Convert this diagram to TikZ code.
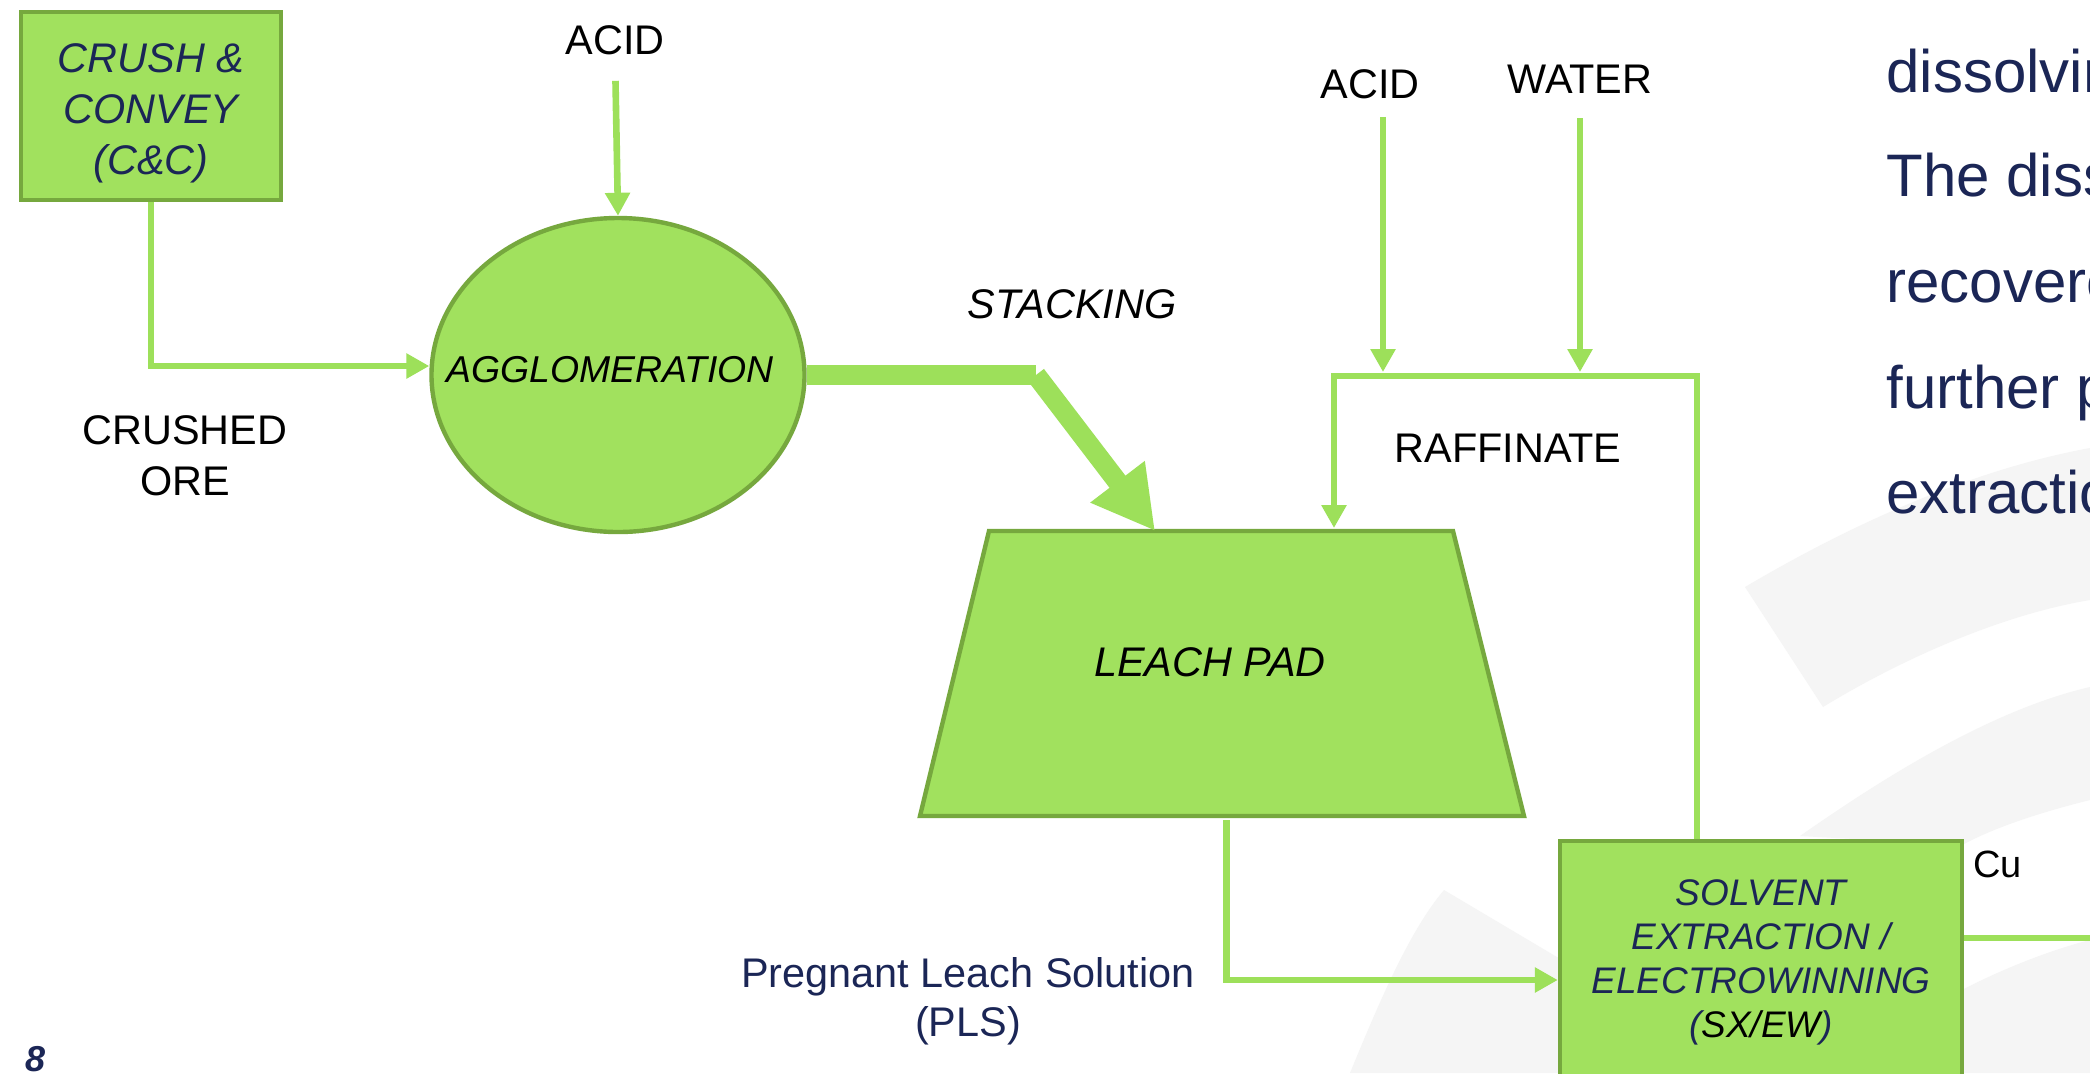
\documentclass[tikz,border=0pt]{standalone}
\usepackage{fontspec}
\setmainfont{Liberation Sans}
\usetikzlibrary{arrows.meta,shapes.geometric,calc}
\definecolor{padgreen}{RGB}{161,225,94}
\definecolor{edgegreen}{RGB}{118,168,62}
\definecolor{flowgreen}{RGB}{157,224,90}
\definecolor{slatenavy}{RGB}{27,38,86}
\definecolor{swooshgray}{RGB}{245,245,245}

\begin{document}
\begin{tikzpicture}[
  x=0.5pt, y=-0.5pt,
  unitbox/.style={
    draw=edgegreen,
    fill=padgreen,
    line width=2.2pt,
    inner sep=0pt,
    align=center,
    font=\fontsize{20.7}{25.5}\selectfont\itshape,
    text=slatenavy
  },
  unitshape/.style={
    draw=edgegreen,
    fill=padgreen,
    line width=2.2pt,
    inner sep=0pt,
    align=center,
    font=\fontsize{20.7}{25.5}\selectfont\itshape
  },
  padshape/.style={draw=edgegreen, fill=padgreen, line width=2.2pt},
  flowlabel/.style={inner sep=0pt, align=center, font=\fontsize{20.7}{25.5}\selectfont},
  bodytext/.style={inner sep=0pt, anchor=base west, text=slatenavy, font=\fontsize{30}{36}\selectfont},
  flow/.style={-{Triangle[length=11.5pt,width=12pt]}, line width=3.3pt, draw=flowgreen},
  plainflow/.style={line width=3.3pt, draw=flowgreen},
  bigline/.style={line width=10pt, draw=flowgreen},
  bigflow/.style={-{Triangle[length=31pt,width=32pt]}, line width=10pt, draw=flowgreen}
]

\useasboundingbox (0,0) rectangle (2090,1073);
\clip (0,0) rectangle (2090,1073);
\fill[white] (0,0) rectangle (2090,1073);

% Background swooshes
\fill[swooshgray] (1745,587) .. controls (1850,525) and (1970,470) .. (2090,448)
  -- (2090,600) .. controls (2000,615) and (1900,660) .. (1823,707) -- cycle;
\fill[swooshgray] (1800,836) .. controls (1880,780) and (1990,710) .. (2090,687)
  -- (2090,800) .. controls (2030,815) and (1990,830) .. (1962,845) -- cycle;
\fill[swooshgray] (1962,990) .. controls (2000,970) and (2050,950) .. (2090,940)
  -- (2090,1073) -- (1962,1073) -- cycle;
\fill[swooshgray] (1444,890) -- (1562,960) -- (1562,1073) -- (1350,1073)
  .. controls (1380,1000) and (1410,930) .. cycle;

% Process units
\node[unitbox, minimum width=130pt, minimum height=94pt] (crush) at (151,106)
  {\rule{0pt}{21.3pt}CRUSH \&\\CONVEY\\(C\&C)};
\node[unitshape, ellipse, minimum width=186.5pt, minimum height=157pt,
  font=\fontsize{18.7}{22}\selectfont\itshape] (agg) at (618,375)
  {\makebox[0pt]{\raisebox{-3.5pt}[0pt][0pt]{AGGLOMERATION\hspace*{8pt}}}};

% Leach pad
\coordinate (padtl) at (989,531);
\coordinate (padtr) at (1453,531);
\coordinate (padbr) at (1524,816);
\coordinate (padbl) at (920,816);
\filldraw[padshape] (padtl) -- (padtr) -- (padbr) -- (padbl) -- cycle;
\node[flowlabel, font=\fontsize{20.7}{25.5}\selectfont\itshape] (pad) at (1210,662) {LEACH PAD};
\coordinate (padout) at ($(padbl)!0.507!(padbr)$);

\node[unitbox, minimum width=201pt, minimum height=121pt,
  font=\fontsize{18.5}{22}\selectfont\itshape] (sx) at (1761,962)
  {SOLVENT\\EXTRACTION /\\ELECTROWINNING\\({\color{black}SX/EW})};

% Stream labels
\node[flowlabel, anchor=base] (acida) at (615,54) {ACID};
\node[flowlabel, anchor=base] (acidb) at (1370,98) {ACID};
\node[flowlabel, anchor=base] (water) at (1580,93) {WATER};
\node[flowlabel] (ore) at (185,456) {CRUSHED\\ORE};
\node[flowlabel, anchor=base, font=\fontsize{20.7}{25.5}\selectfont\itshape] (stacking) at (1072,318) {STACKING};
\node[flowlabel, anchor=base] (raffinate) at (1508,462) {RAFFINATE};
\node[flowlabel, text=slatenavy, font=\fontsize{20.7}{24.5}\selectfont] (pls) at (968,1001)
  {Pregnant Leach Solution\\(PLS)};
\node[flowlabel, anchor=base west, font=\fontsize{19}{23}\selectfont] (cu) at (1973,877) {Cu};

% Side text
\node[bodytext] (linea) at (1886,92) {dissolvin};
\node[bodytext] (lineb) at (1886,196) {The diss};
\node[bodytext] (linec) at (1886,302) {recovere};
\node[bodytext] (lined) at (1886,408) {further p};
\node[bodytext] (linee) at (1886,513) {extractio};

% Page number
\node[inner sep=0pt, anchor=base west, text=slatenavy, font=\fontsize{18}{20}\selectfont\bfseries\itshape]
  (pagenum) at (25,1071) {8};

% Raffinate loop points
\coordinate (rafr) at (1697,376);
\coordinate (rafl) at (1334,376);
\coordinate (stk) at (1036,375);
\coordinate (cuout) at (2095,938);

% Connectors
\draw[flow] (crush.south) |- ([yshift=4.5pt]agg.west);
\draw[flow, shorten <=13pt] (acida.south) -- (agg.north);
\draw[bigline] (agg.east) -- (stk);
\draw[bigflow] (stk) -- ($(padtl)!0.358!(padtr)$);
\draw[flow, shorten <=9pt, shorten >=2pt] ([xshift=6.5pt]acidb.south) -- ([xshift=6.5pt]acidb.south |- rafl);
\draw[flow, shorten <=12.5pt, shorten >=2pt] (water.south) -- (water.south |- rafl);
\draw[flow] (sx.north -| rafr) -- (rafr) -- (rafl) -- ([yshift=1.5pt]rafl |- padtl);
\draw[flow] ([yshift=-2pt]padout) |- ([yshift=-9pt]sx.west);
\draw[plainflow] (sx.east |- cuout) -- (cuout);

\end{tikzpicture}
\end{document}
